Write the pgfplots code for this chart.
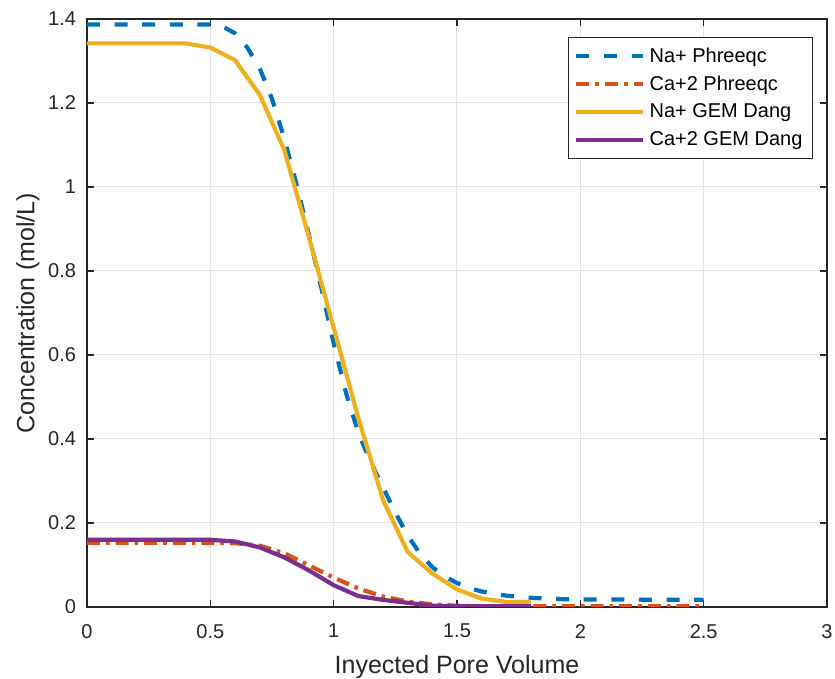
\documentclass[border=0pt]{standalone}
\usepackage{pgfplots}
\pgfplotsset{compat=1.18}
\usepackage{fontspec}
\setmainfont{Liberation Sans}
\definecolor{mblue}{rgb}{0,0.447,0.741}
\definecolor{morange}{rgb}{0.85,0.325,0.098}
\definecolor{myellow}{rgb}{0.929,0.694,0.125}
\definecolor{mpurple}{rgb}{0.494,0.184,0.556}
\definecolor{axgray}{rgb}{0.15,0.15,0.15}
\begin{document}
\begin{tikzpicture}
\path[use as bounding box] (-43.5bp,-36bp) rectangle (374bp,303.5bp);
\begin{axis}[
  at={(0,0)}, anchor=south west,
  scale only axis, width=370bp, height=294bp,
  xmin=0, xmax=3, ymin=0, ymax=1.4,
  xtick={0,0.5,...,3}, ytick={0,0.2,...,1.4},
  /pgf/number format/assume math mode=true,
  tick label style={font=\fontsize{10bp}{12bp}\selectfont, text=axgray},
  xticklabel style={yshift=-5bp},
  yticklabel style={xshift=-2bp},
  label style={font=\fontsize{12.5bp}{14bp}\selectfont, text=axgray},
  xlabel={Inyected Pore Volume},
  ylabel={Concentration (mol/L)},
  xlabel style={at={(axis description cs:0.5,0)}, anchor=base, yshift=-33bp},
  ylabel style={at={(axis description cs:0,0.5)}, anchor=center, yshift=29.5bp},
  axis line style={draw=axgray, line width=0.8bp},
  every tick/.style={draw=axgray, line width=0.8bp},
  tick align=inside, major tick length=3.7bp,
  xtick pos=both, ytick pos=both,
  grid=major, major grid style={draw=black!11, line width=0.5bp},
  legend style={at={(rel axis cs:1,1)}, anchor=north east, xshift=-7bp, yshift=-9bp,
    font=\fontsize{10bp}{12bp}\selectfont, draw=axgray, line width=0.6bp,
    inner xsep=3bp, inner ysep=3bp, row sep=1.3bp, text=black},
  legend cell align=left,
  legend image code/.code={\draw[#1] (0bp,0bp) -- (33.5bp,0bp);},
]
\addplot[mblue, line width=2.1bp, dash pattern=on 6.5bp off 7.3bp] coordinates {
(0,1.387) (0.5,1.387) (0.55,1.382) (0.6,1.366) (0.65,1.332) (0.7,1.283)
(0.75,1.21) (0.8,1.115) (0.85,1.005) (0.9,0.885) (0.95,0.76) (1.0,0.628)
(1.05,0.51) (1.1,0.415) (1.15,0.345) (1.2,0.285) (1.25,0.225) (1.3,0.17)
(1.35,0.127) (1.4,0.095) (1.45,0.073) (1.5,0.057) (1.55,0.045) (1.6,0.037)
(1.7,0.027) (1.8,0.022) (1.9,0.019) (2.0,0.018) (2.5,0.017)};
\addlegendentry{Na+ Phreeqc}
\addplot[morange, line width=2.1bp, dash pattern=on 6.5bp off 3bp on 1.8bp off 3bp] coordinates {
(0,0.153) (0.5,0.153) (0.6,0.152) (0.7,0.146) (0.8,0.128) (0.9,0.099)
(1.0,0.07) (1.1,0.044) (1.2,0.025) (1.3,0.013) (1.4,0.006) (1.5,0.003)
(1.6,0.002) (2.5,0.002)};
\addlegendentry{Ca+2 Phreeqc}
\addplot[myellow, line width=2.1bp] coordinates {
(0,1.342) (0.1,1.342) (0.2,1.342) (0.3,1.342) (0.4,1.342) (0.5,1.332)
(0.6,1.302) (0.7,1.22) (0.8,1.088) (0.9,0.88) (1.0,0.665) (1.1,0.45)
(1.2,0.255) (1.3,0.131) (1.4,0.08) (1.5,0.042) (1.6,0.02) (1.7,0.012) (1.8,0.012)};
\addlegendentry{Na+ GEM Dang}
\addplot[mpurple, line width=2.1bp] coordinates {
(0,0.16) (0.1,0.16) (0.2,0.16) (0.3,0.16) (0.4,0.16) (0.5,0.16)
(0.6,0.156) (0.7,0.142) (0.8,0.118) (0.9,0.087) (1.0,0.052) (1.1,0.026)
(1.2,0.017) (1.3,0.01) (1.4,0.003) (1.5,0.002) (1.6,0.002) (1.7,0.002) (1.8,0.002)};
\addlegendentry{Ca+2 GEM Dang}
\end{axis}
\end{tikzpicture}
\end{document}
